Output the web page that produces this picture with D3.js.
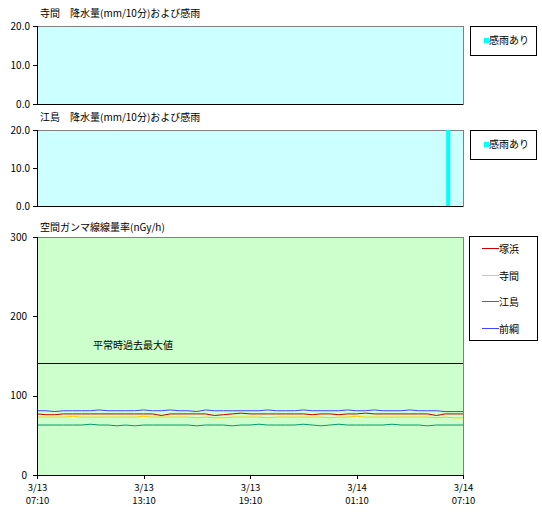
<!DOCTYPE html>
<html>
<head>
<meta charset="utf-8">
<script src="https://cdn.jsdelivr.net/npm/d3@7"></script>
<style>
  body { margin: 0; background: #fff; }
  text { font-family: "Noto Sans CJK JP", "DejaVu Sans", sans-serif; fill: #000; }
</style>
</head>
<body>
<div id="container"></div>
<script>
// time axis: 10-min data from 3/13 07:10 to 3/14 07:10, series sampled every 30 min
const startTime = new Date(2011, 2, 13, 7, 10);
const endTime = new Date(2011, 2, 14, 7, 10);
const stepMin = 30;
const xTickLabels = [["3/13", "07:10"], ["3/13", "13:10"], ["3/13", "19:10"], ["3/14", "01:10"], ["3/14", "07:10"]];

const rainTicks = [0, 10, 20];
const rainTickLabels = ["0.0", "10.0", "20.0"];
const teramaRain = [];               // no rain sensed
const ejimaRain = ["3/14 06:20"];    // rain sensed

const gammaTicks = [0, 100, 200, 300];
const maxNormal = 140;
const seriesNames = ["塚浜", "寺間", "江島", "前綱"];
const seriesColors = ["#cc0000", "#ffcc00", "#00996b", "#4444ff"];
const tsukahama = [77,76,76,77,77,77,77,77,77,77,77,77,77,77,75,77,77,77,77,77,75,76,77,78,77,77,77,77,77,77,77,76,77,77,76,77,77,78,77,77,77,77,77,77,77,75,77,77,77];
const terama = [73,73,73,73,74,73,73,73,73,73,73,73,74,73,73,73,73,73,72,73,72,72,73,73,73,73,72,73,73,73,73,73,73,72,73,73,74,73,73,73,73,73,73,73,73,72,73,72,72];
const ejima = [63,63,63,63,63,63,64,63,63,62,63,62,63,63,63,63,63,63,62,63,63,63,62,63,63,64,63,63,63,63,64,63,62,63,64,63,63,63,63,63,64,63,63,63,62,63,63,63,63];
const maeami = [81,81,80,81,81,81,81,82,81,81,81,81,82,81,81,82,81,81,80,82,81,81,81,81,81,81,82,81,81,81,82,81,81,81,81,82,81,81,82,81,81,81,82,81,81,81,80,80,80];
const gammaSeries = [tsukahama, terama, ejima, maeami];

const w = 542, h = 528;
const left = 37, right = 463;

const svg = d3.select("#container").append("svg")
    .attr("width", w).attr("height", h);

const x = d3.scaleTime().domain([startTime, endTime]).range([left, right]);
const parseRain = (s) => {
    const [md, hm] = s.split(" ");
    const [m, d] = md.split("/").map(Number);
    const [hh, mm] = hm.split(":").map(Number);
    return new Date(2011, m - 1, d, hh, mm);
};

function frame(g, top, bottom, fill) {
    g.append("rect")
        .attr("x", left).attr("y", top)
        .attr("width", right - left).attr("height", bottom - top)
        .attr("fill", fill)
        .attr("stroke", "#808080")
        .attr("shape-rendering", "crispEdges");
}

function styleAxis(a, dx) {
    a.select(".domain").attr("shape-rendering", "crispEdges");
    a.selectAll("line").attr("shape-rendering", "crispEdges");
    a.selectAll("text").attr("font-size", 10)
        .attr("font-family", "Liberation Sans, Arial, sans-serif")
        .attr("x", dx);
}

function rainPanel(title, top, bottom, rain) {
    const g = svg.append("g");
    const y = d3.scaleLinear().domain([0, 20]).range([bottom, top]);
    g.append("text").attr("x", 40).attr("y", top - 9).attr("font-size", 10).text(title);
    frame(g, top, bottom, "#ccffff");

    g.selectAll(".rain").data(rain).enter().append("rect")
        .attr("x", (d) => x(parseRain(d)) - 2)
        .attr("width", 4)
        .attr("y", y(20))
        .attr("height", y(0) - y(20))
        .attr("fill", "#00ffff");

    const yAxis = d3.axisLeft(y).tickValues(rainTicks).tickSize(4)
        .tickFormat((d, i) => rainTickLabels[i]);
    g.append("g")
        .attr("transform", `translate(${left},0)`)
        .call(yAxis)
        .call((a) => styleAxis(a, -7));
    g.append("line")
        .attr("x1", left).attr("x2", right).attr("y1", bottom).attr("y2", bottom)
        .attr("stroke", "#000").attr("shape-rendering", "crispEdges");

    const lg = g.append("g").attr("transform", `translate(470,${top})`);
    lg.append("rect").attr("width", 66).attr("height", 29)
        .attr("fill", "#fff").attr("stroke", "#000").attr("shape-rendering", "crispEdges");
    lg.append("rect").attr("x", 14).attr("y", 12).attr("width", 5).attr("height", 5).attr("fill", "#00ffff");
    lg.append("text").attr("x", 19).attr("y", 18).attr("font-size", 10).text("感雨あり");
}

rainPanel("寺間　降水量(mm/10分)および感雨", 26, 104, teramaRain);
rainPanel("江島　降水量(mm/10分)および感雨", 130, 206, ejimaRain);

// gamma panel
const gTop = 237, gBottom = 475;
const gg = svg.append("g");
const yg = d3.scaleLinear().domain([0, 300]).range([gBottom, gTop]);
gg.append("text").attr("x", 40).attr("y", gTop - 6).attr("font-size", 10).text("空間ガンマ線線量率(nGy/h)");
frame(gg, gTop, gBottom, "#ccffcc");

gg.append("line")
    .attr("x1", left).attr("x2", right)
    .attr("y1", yg(maxNormal)).attr("y2", yg(maxNormal))
    .attr("stroke", "#000").attr("shape-rendering", "crispEdges");
gg.append("text")
    .attr("x", 133).attr("y", yg(maxNormal) - 15)
    .attr("text-anchor", "middle").attr("font-size", 10)
    .text("平常時過去最大値");

const line = d3.line()
    .x((d, i) => x(new Date(startTime.getTime() + i * stepMin * 60000)))
    .y((d) => yg(d));

gg.selectAll(".series").data(gammaSeries).enter().append("path")
    .attr("class", "series")
    .attr("d", line)
    .attr("fill", "none")
    .attr("stroke", (d, i) => seriesColors[i])
    .attr("stroke-width", 1);

const ygAxis = d3.axisLeft(yg).tickValues(gammaTicks).tickSize(4);
gg.append("g")
    .attr("transform", `translate(${left},0)`)
    .call(ygAxis)
    .call((a) => styleAxis(a, -10));

const xTickDates = d3.range(5).map((i) => new Date(startTime.getTime() + i * 6 * 3600000));
const xAxis = d3.axisBottom(x).tickValues(xTickDates).tickSize(4).tickFormat("");
const xa = gg.append("g")
    .attr("transform", `translate(0,${gBottom})`)
    .call(xAxis)
    .call((a) => a.select(".domain").attr("shape-rendering", "crispEdges"))
    .call((a) => a.selectAll("line").attr("shape-rendering", "crispEdges"));
xa.selectAll(".tick text").remove();
xa.selectAll(".tick").each(function (d, i) {
    const tk = d3.select(this);
    xTickLabels[i].forEach((lbl, j) => {
        tk.append("text")
            .attr("y", 16 + j * 12.5)
            .attr("text-anchor", "middle")
            .attr("font-size", 9.5)
            .attr("font-family", "Liberation Sans, Arial, sans-serif")
            .attr("fill", "#000")
            .text(lbl);
    });
});

const glg = gg.append("g").attr("transform", "translate(469,236)");
glg.append("rect").attr("width", 68).attr("height", 104)
    .attr("fill", "#fff").attr("stroke", "#000").attr("shape-rendering", "crispEdges");
seriesNames.forEach((name, i) => {
    const yy = Math.round(12 + i * 26.5) + 0.5;
    glg.append("line").attr("x1", 13).attr("x2", 30).attr("y1", yy).attr("y2", yy)
        .attr("stroke", seriesColors[i]);
    glg.append("text").attr("x", 30).attr("y", yy + 4).attr("font-size", 10).text(name);
});
</script>
</body>
</html>
